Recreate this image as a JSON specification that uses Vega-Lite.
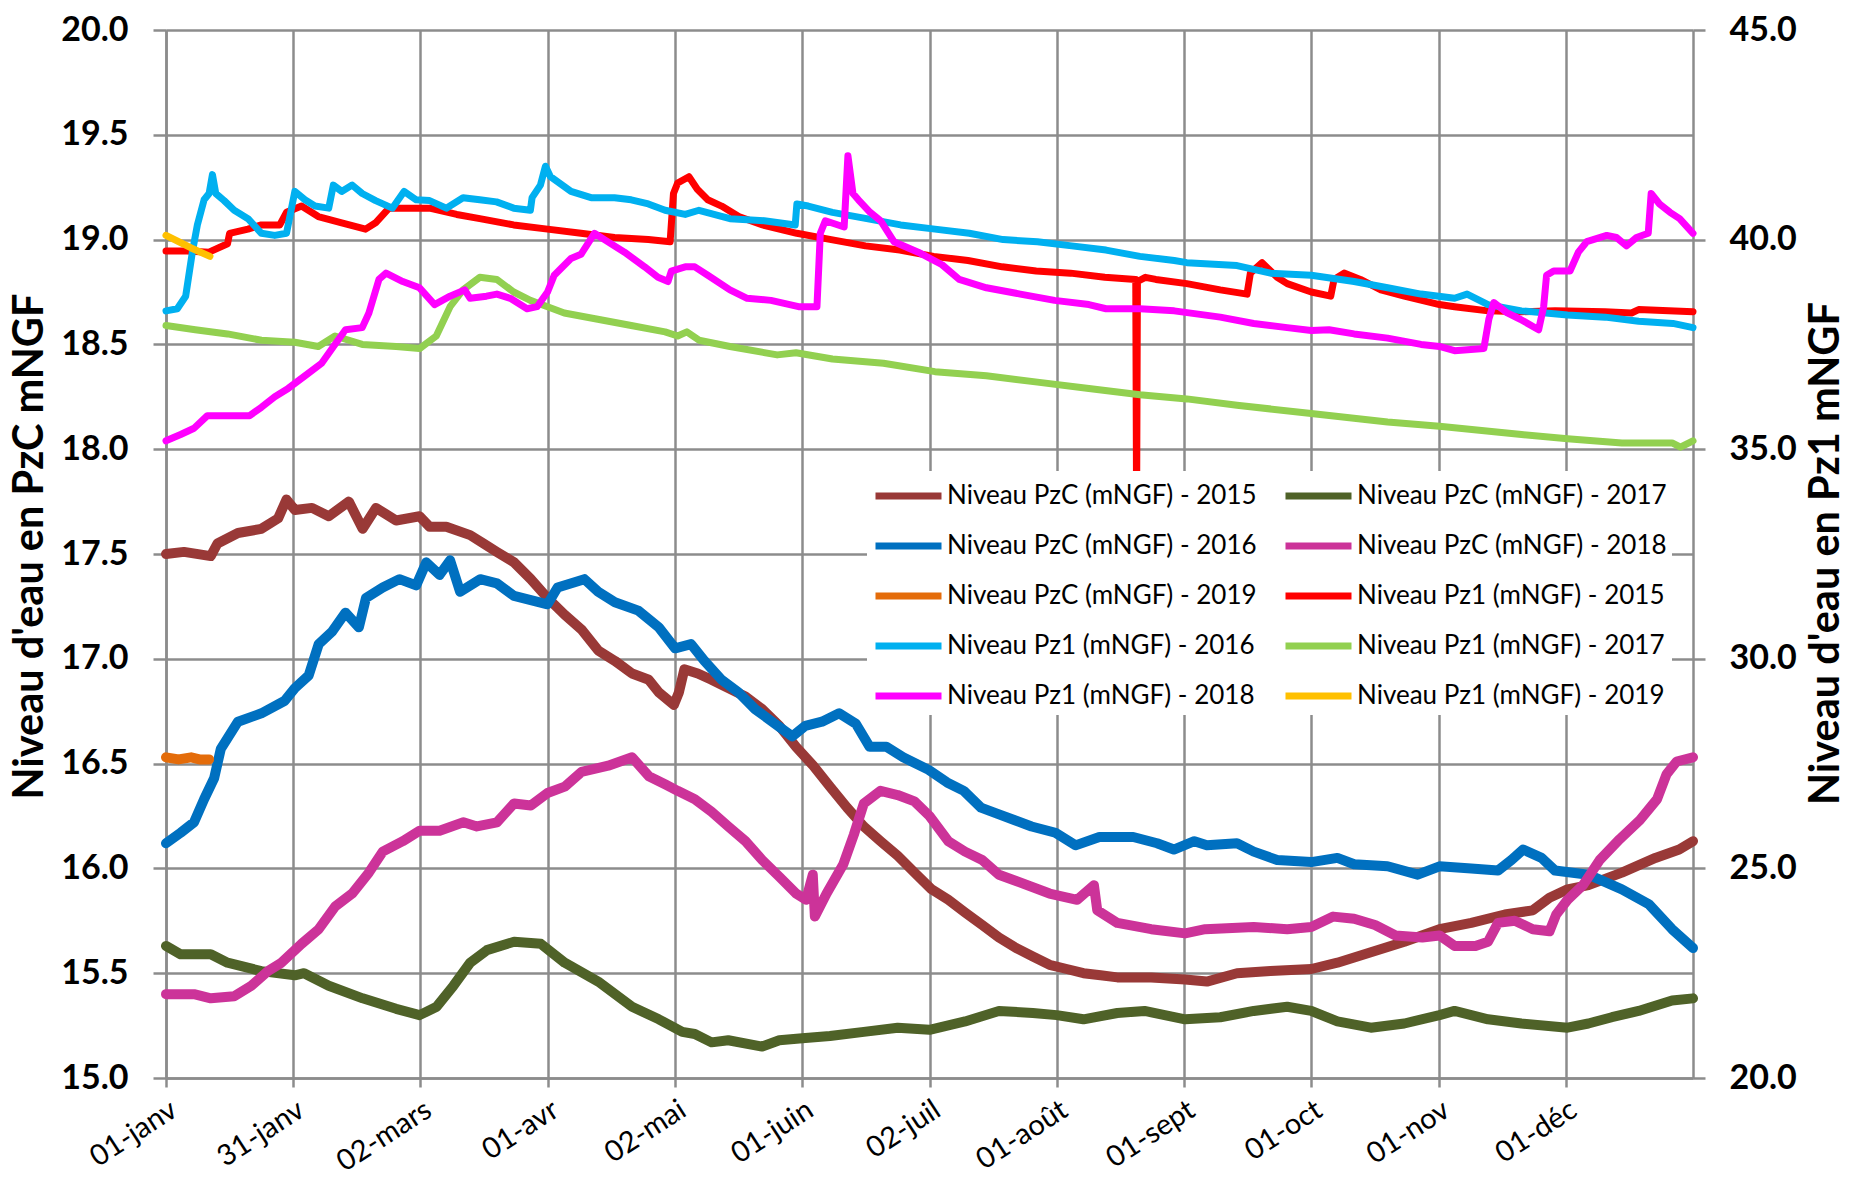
{
  "$schema": "https://vega.github.io/schema/vega-lite/v6.json",
  "width": 1527,
  "height": 1048,
  "autosize": "none",
  "padding": {"left": 166, "top": 30, "right": 157, "bottom": 101},
  "background": "white",
  "config": {"view": {"stroke": null}, "font": "Lato"},
  "datasets": {
    "pzc": [
      {"serie":"Niveau PzC (mNGF) - 2015","jour":0,"niveau":17.5},{"serie":"Niveau PzC (mNGF) - 2015","jour":4.3,"niveau":17.51},{"serie":"Niveau PzC (mNGF) - 2015","jour":10.7,"niveau":17.49},{"serie":"Niveau PzC (mNGF) - 2015","jour":12.3,"niveau":17.55},{"serie":"Niveau PzC (mNGF) - 2015","jour":17.2,"niveau":17.6},{"serie":"Niveau PzC (mNGF) - 2015","jour":22.8,"niveau":17.62},{"serie":"Niveau PzC (mNGF) - 2015","jour":26.8,"niveau":17.67},{"serie":"Niveau PzC (mNGF) - 2015","jour":28.8,"niveau":17.76},{"serie":"Niveau PzC (mNGF) - 2015","jour":30.8,"niveau":17.71},{"serie":"Niveau PzC (mNGF) - 2015","jour":34.9,"niveau":17.72},{"serie":"Niveau PzC (mNGF) - 2015","jour":38.9,"niveau":17.68},{"serie":"Niveau PzC (mNGF) - 2015","jour":43.7,"niveau":17.75},{"serie":"Niveau PzC (mNGF) - 2015","jour":47,"niveau":17.62},{"serie":"Niveau PzC (mNGF) - 2015","jour":50.2,"niveau":17.72},{"serie":"Niveau PzC (mNGF) - 2015","jour":55,"niveau":17.66},{"serie":"Niveau PzC (mNGF) - 2015","jour":60.6,"niveau":17.68},{"serie":"Niveau PzC (mNGF) - 2015","jour":63,"niveau":17.63},{"serie":"Niveau PzC (mNGF) - 2015","jour":67,"niveau":17.63},{"serie":"Niveau PzC (mNGF) - 2015","jour":72.7,"niveau":17.59},{"serie":"Niveau PzC (mNGF) - 2015","jour":75.9,"niveau":17.55},{"serie":"Niveau PzC (mNGF) - 2015","jour":79.1,"niveau":17.51},{"serie":"Niveau PzC (mNGF) - 2015","jour":83.2,"niveau":17.46},{"serie":"Niveau PzC (mNGF) - 2015","jour":87.2,"niveau":17.38},{"serie":"Niveau PzC (mNGF) - 2015","jour":91.2,"niveau":17.29},{"serie":"Niveau PzC (mNGF) - 2015","jour":95.3,"niveau":17.21},{"serie":"Niveau PzC (mNGF) - 2015","jour":99.3,"niveau":17.14},{"serie":"Niveau PzC (mNGF) - 2015","jour":103.3,"niveau":17.04},{"serie":"Niveau PzC (mNGF) - 2015","jour":107.3,"niveau":16.99},{"serie":"Niveau PzC (mNGF) - 2015","jour":111.4,"niveau":16.93},{"serie":"Niveau PzC (mNGF) - 2015","jour":115.4,"niveau":16.9},{"serie":"Niveau PzC (mNGF) - 2015","jour":117.8,"niveau":16.84},{"serie":"Niveau PzC (mNGF) - 2015","jour":121.4,"niveau":16.78},{"serie":"Niveau PzC (mNGF) - 2015","jour":122.6,"niveau":16.84},{"serie":"Niveau PzC (mNGF) - 2015","jour":123.9,"niveau":16.95},{"serie":"Niveau PzC (mNGF) - 2015","jour":127.1,"niveau":16.93},{"serie":"Niveau PzC (mNGF) - 2015","jour":130.4,"niveau":16.9},{"serie":"Niveau PzC (mNGF) - 2015","jour":134.4,"niveau":16.86},{"serie":"Niveau PzC (mNGF) - 2015","jour":138.5,"niveau":16.82},{"serie":"Niveau PzC (mNGF) - 2015","jour":142.5,"niveau":16.76},{"serie":"Niveau PzC (mNGF) - 2015","jour":146.6,"niveau":16.68},{"serie":"Niveau PzC (mNGF) - 2015","jour":150.6,"niveau":16.58},{"serie":"Niveau PzC (mNGF) - 2015","jour":154.7,"niveau":16.49},{"serie":"Niveau PzC (mNGF) - 2015","jour":158.7,"niveau":16.39},{"serie":"Niveau PzC (mNGF) - 2015","jour":162.8,"niveau":16.29},{"serie":"Niveau PzC (mNGF) - 2015","jour":166.8,"niveau":16.2},{"serie":"Niveau PzC (mNGF) - 2015","jour":170.8,"niveau":16.13},{"serie":"Niveau PzC (mNGF) - 2015","jour":174.9,"niveau":16.06},{"serie":"Niveau PzC (mNGF) - 2015","jour":178.9,"niveau":15.98},{"serie":"Niveau PzC (mNGF) - 2015","jour":183,"niveau":15.9},{"serie":"Niveau PzC (mNGF) - 2015","jour":187,"niveau":15.85},{"serie":"Niveau PzC (mNGF) - 2015","jour":191,"niveau":15.79},{"serie":"Niveau PzC (mNGF) - 2015","jour":195.1,"niveau":15.73},{"serie":"Niveau PzC (mNGF) - 2015","jour":199.1,"niveau":15.67},{"serie":"Niveau PzC (mNGF) - 2015","jour":203.2,"niveau":15.62},{"serie":"Niveau PzC (mNGF) - 2015","jour":207.2,"niveau":15.58},{"serie":"Niveau PzC (mNGF) - 2015","jour":211.2,"niveau":15.54},{"serie":"Niveau PzC (mNGF) - 2015","jour":215.3,"niveau":15.52},{"serie":"Niveau PzC (mNGF) - 2015","jour":219.3,"niveau":15.5},{"serie":"Niveau PzC (mNGF) - 2015","jour":223.4,"niveau":15.49},{"serie":"Niveau PzC (mNGF) - 2015","jour":227.4,"niveau":15.48},{"serie":"Niveau PzC (mNGF) - 2015","jour":235.5,"niveau":15.48},{"serie":"Niveau PzC (mNGF) - 2015","jour":243.6,"niveau":15.47},{"serie":"Niveau PzC (mNGF) - 2015","jour":248.8,"niveau":15.46},{"serie":"Niveau PzC (mNGF) - 2015","jour":256,"niveau":15.5},{"serie":"Niveau PzC (mNGF) - 2015","jour":264,"niveau":15.51},{"serie":"Niveau PzC (mNGF) - 2015","jour":273.75,"niveau":15.52},{"serie":"Niveau PzC (mNGF) - 2015","jour":280,"niveau":15.55},{"serie":"Niveau PzC (mNGF) - 2015","jour":288,"niveau":15.6},{"serie":"Niveau PzC (mNGF) - 2015","jour":296,"niveau":15.65},{"serie":"Niveau PzC (mNGF) - 2015","jour":304.4,"niveau":15.71},{"serie":"Niveau PzC (mNGF) - 2015","jour":312,"niveau":15.74},{"serie":"Niveau PzC (mNGF) - 2015","jour":320,"niveau":15.78},{"serie":"Niveau PzC (mNGF) - 2015","jour":326.7,"niveau":15.8},{"serie":"Niveau PzC (mNGF) - 2015","jour":330.7,"niveau":15.86},{"serie":"Niveau PzC (mNGF) - 2015","jour":335,"niveau":15.9},{"serie":"Niveau PzC (mNGF) - 2015","jour":340,"niveau":15.92},{"serie":"Niveau PzC (mNGF) - 2015","jour":348,"niveau":15.98},{"serie":"Niveau PzC (mNGF) - 2015","jour":356,"niveau":16.05},{"serie":"Niveau PzC (mNGF) - 2015","jour":361.7,"niveau":16.09},{"serie":"Niveau PzC (mNGF) - 2015","jour":365,"niveau":16.13},

      {"serie":"Niveau PzC (mNGF) - 2016","jour":0,"niveau":16.12},{"serie":"Niveau PzC (mNGF) - 2016","jour":3.5,"niveau":16.17},{"serie":"Niveau PzC (mNGF) - 2016","jour":6.7,"niveau":16.22},{"serie":"Niveau PzC (mNGF) - 2016","jour":9.1,"niveau":16.33},{"serie":"Niveau PzC (mNGF) - 2016","jour":11.5,"niveau":16.43},{"serie":"Niveau PzC (mNGF) - 2016","jour":13.1,"niveau":16.57},{"serie":"Niveau PzC (mNGF) - 2016","jour":17.2,"niveau":16.7},{"serie":"Niveau PzC (mNGF) - 2016","jour":22.8,"niveau":16.74},{"serie":"Niveau PzC (mNGF) - 2016","jour":28.4,"niveau":16.8},{"serie":"Niveau PzC (mNGF) - 2016","jour":30.8,"niveau":16.86},{"serie":"Niveau PzC (mNGF) - 2016","jour":34.1,"niveau":16.92},{"serie":"Niveau PzC (mNGF) - 2016","jour":36.5,"niveau":17.07},{"serie":"Niveau PzC (mNGF) - 2016","jour":39.7,"niveau":17.13},{"serie":"Niveau PzC (mNGF) - 2016","jour":42.9,"niveau":17.22},{"serie":"Niveau PzC (mNGF) - 2016","jour":46.1,"niveau":17.15},{"serie":"Niveau PzC (mNGF) - 2016","jour":47.8,"niveau":17.29},{"serie":"Niveau PzC (mNGF) - 2016","jour":51.8,"niveau":17.34},{"serie":"Niveau PzC (mNGF) - 2016","jour":55.8,"niveau":17.38},{"serie":"Niveau PzC (mNGF) - 2016","jour":59.8,"niveau":17.35},{"serie":"Niveau PzC (mNGF) - 2016","jour":62.2,"niveau":17.46},{"serie":"Niveau PzC (mNGF) - 2016","jour":65.4,"niveau":17.4},{"serie":"Niveau PzC (mNGF) - 2016","jour":67.9,"niveau":17.47},{"serie":"Niveau PzC (mNGF) - 2016","jour":70.3,"niveau":17.32},{"serie":"Niveau PzC (mNGF) - 2016","jour":75.1,"niveau":17.38},{"serie":"Niveau PzC (mNGF) - 2016","jour":79.1,"niveau":17.36},{"serie":"Niveau PzC (mNGF) - 2016","jour":83.2,"niveau":17.3},{"serie":"Niveau PzC (mNGF) - 2016","jour":87.2,"niveau":17.28},{"serie":"Niveau PzC (mNGF) - 2016","jour":91.2,"niveau":17.26},{"serie":"Niveau PzC (mNGF) - 2016","jour":93.6,"niveau":17.34},{"serie":"Niveau PzC (mNGF) - 2016","jour":100,"niveau":17.38},{"serie":"Niveau PzC (mNGF) - 2016","jour":103.3,"niveau":17.32},{"serie":"Niveau PzC (mNGF) - 2016","jour":107.3,"niveau":17.27},{"serie":"Niveau PzC (mNGF) - 2016","jour":112.9,"niveau":17.23},{"serie":"Niveau PzC (mNGF) - 2016","jour":117.8,"niveau":17.15},{"serie":"Niveau PzC (mNGF) - 2016","jour":121.7,"niveau":17.05},{"serie":"Niveau PzC (mNGF) - 2016","jour":125.5,"niveau":17.07},{"serie":"Niveau PzC (mNGF) - 2016","jour":128.7,"niveau":16.99},{"serie":"Niveau PzC (mNGF) - 2016","jour":132.8,"niveau":16.9},{"serie":"Niveau PzC (mNGF) - 2016","jour":136.8,"niveau":16.84},{"serie":"Niveau PzC (mNGF) - 2016","jour":140.8,"niveau":16.76},{"serie":"Niveau PzC (mNGF) - 2016","jour":144.9,"niveau":16.7},{"serie":"Niveau PzC (mNGF) - 2016","jour":149.7,"niveau":16.63},{"serie":"Niveau PzC (mNGF) - 2016","jour":152.8,"niveau":16.68},{"serie":"Niveau PzC (mNGF) - 2016","jour":156.8,"niveau":16.7},{"serie":"Niveau PzC (mNGF) - 2016","jour":160.9,"niveau":16.74},{"serie":"Niveau PzC (mNGF) - 2016","jour":164.9,"niveau":16.69},{"serie":"Niveau PzC (mNGF) - 2016","jour":168.2,"niveau":16.58},{"serie":"Niveau PzC (mNGF) - 2016","jour":172.2,"niveau":16.58},{"serie":"Niveau PzC (mNGF) - 2016","jour":176.2,"niveau":16.53},{"serie":"Niveau PzC (mNGF) - 2016","jour":182.3,"niveau":16.47},{"serie":"Niveau PzC (mNGF) - 2016","jour":186.7,"niveau":16.41},{"serie":"Niveau PzC (mNGF) - 2016","jour":190.7,"niveau":16.37},{"serie":"Niveau PzC (mNGF) - 2016","jour":194.8,"niveau":16.29},{"serie":"Niveau PzC (mNGF) - 2016","jour":198.8,"niveau":16.26},{"serie":"Niveau PzC (mNGF) - 2016","jour":202.9,"niveau":16.23},{"serie":"Niveau PzC (mNGF) - 2016","jour":206.9,"niveau":16.2},{"serie":"Niveau PzC (mNGF) - 2016","jour":212.6,"niveau":16.17},{"serie":"Niveau PzC (mNGF) - 2016","jour":217.4,"niveau":16.11},{"serie":"Niveau PzC (mNGF) - 2016","jour":223.1,"niveau":16.15},{"serie":"Niveau PzC (mNGF) - 2016","jour":231.2,"niveau":16.15},{"serie":"Niveau PzC (mNGF) - 2016","jour":236.9,"niveau":16.12},{"serie":"Niveau PzC (mNGF) - 2016","jour":240.9,"niveau":16.09},{"serie":"Niveau PzC (mNGF) - 2016","jour":245.8,"niveau":16.13},{"serie":"Niveau PzC (mNGF) - 2016","jour":248.8,"niveau":16.11},{"serie":"Niveau PzC (mNGF) - 2016","jour":256,"niveau":16.12},{"serie":"Niveau PzC (mNGF) - 2016","jour":260,"niveau":16.08},{"serie":"Niveau PzC (mNGF) - 2016","jour":265.6,"niveau":16.04},{"serie":"Niveau PzC (mNGF) - 2016","jour":273.75,"niveau":16.03},{"serie":"Niveau PzC (mNGF) - 2016","jour":280,"niveau":16.05},{"serie":"Niveau PzC (mNGF) - 2016","jour":284,"niveau":16.02},{"serie":"Niveau PzC (mNGF) - 2016","jour":292,"niveau":16.01},{"serie":"Niveau PzC (mNGF) - 2016","jour":299.2,"niveau":15.97},{"serie":"Niveau PzC (mNGF) - 2016","jour":304.4,"niveau":16.01},{"serie":"Niveau PzC (mNGF) - 2016","jour":312,"niveau":16.0},{"serie":"Niveau PzC (mNGF) - 2016","jour":318.4,"niveau":15.99},{"serie":"Niveau PzC (mNGF) - 2016","jour":321.6,"niveau":16.04},{"serie":"Niveau PzC (mNGF) - 2016","jour":324.4,"niveau":16.09},{"serie":"Niveau PzC (mNGF) - 2016","jour":328.8,"niveau":16.05},{"serie":"Niveau PzC (mNGF) - 2016","jour":332,"niveau":15.99},{"serie":"Niveau PzC (mNGF) - 2016","jour":340,"niveau":15.97},{"serie":"Niveau PzC (mNGF) - 2016","jour":348,"niveau":15.9},{"serie":"Niveau PzC (mNGF) - 2016","jour":354.4,"niveau":15.83},{"serie":"Niveau PzC (mNGF) - 2016","jour":360,"niveau":15.71},{"serie":"Niveau PzC (mNGF) - 2016","jour":365,"niveau":15.62},

      {"serie":"Niveau PzC (mNGF) - 2017","jour":0,"niveau":15.63},{"serie":"Niveau PzC (mNGF) - 2017","jour":3.5,"niveau":15.59},{"serie":"Niveau PzC (mNGF) - 2017","jour":10.7,"niveau":15.59},{"serie":"Niveau PzC (mNGF) - 2017","jour":14.7,"niveau":15.55},{"serie":"Niveau PzC (mNGF) - 2017","jour":22.8,"niveau":15.51},{"serie":"Niveau PzC (mNGF) - 2017","jour":30.8,"niveau":15.49},{"serie":"Niveau PzC (mNGF) - 2017","jour":33,"niveau":15.5},{"serie":"Niveau PzC (mNGF) - 2017","jour":38.9,"niveau":15.44},{"serie":"Niveau PzC (mNGF) - 2017","jour":47,"niveau":15.38},{"serie":"Niveau PzC (mNGF) - 2017","jour":55,"niveau":15.33},{"serie":"Niveau PzC (mNGF) - 2017","jour":60.6,"niveau":15.3},{"serie":"Niveau PzC (mNGF) - 2017","jour":64.7,"niveau":15.34},{"serie":"Niveau PzC (mNGF) - 2017","jour":68.7,"niveau":15.44},{"serie":"Niveau PzC (mNGF) - 2017","jour":72.7,"niveau":15.55},{"serie":"Niveau PzC (mNGF) - 2017","jour":76.7,"niveau":15.61},{"serie":"Niveau PzC (mNGF) - 2017","jour":83.2,"niveau":15.65},{"serie":"Niveau PzC (mNGF) - 2017","jour":89.6,"niveau":15.64},{"serie":"Niveau PzC (mNGF) - 2017","jour":95.3,"niveau":15.55},{"serie":"Niveau PzC (mNGF) - 2017","jour":103.3,"niveau":15.46},{"serie":"Niveau PzC (mNGF) - 2017","jour":111.4,"niveau":15.34},{"serie":"Niveau PzC (mNGF) - 2017","jour":117.8,"niveau":15.28},{"serie":"Niveau PzC (mNGF) - 2017","jour":123.4,"niveau":15.22},{"serie":"Niveau PzC (mNGF) - 2017","jour":126.4,"niveau":15.21},{"serie":"Niveau PzC (mNGF) - 2017","jour":130.4,"niveau":15.17},{"serie":"Niveau PzC (mNGF) - 2017","jour":134.4,"niveau":15.18},{"serie":"Niveau PzC (mNGF) - 2017","jour":142.5,"niveau":15.15},{"serie":"Niveau PzC (mNGF) - 2017","jour":146.6,"niveau":15.18},{"serie":"Niveau PzC (mNGF) - 2017","jour":152.1,"niveau":15.19},{"serie":"Niveau PzC (mNGF) - 2017","jour":158.7,"niveau":15.2},{"serie":"Niveau PzC (mNGF) - 2017","jour":166.8,"niveau":15.22},{"serie":"Niveau PzC (mNGF) - 2017","jour":174.9,"niveau":15.24},{"serie":"Niveau PzC (mNGF) - 2017","jour":182.5,"niveau":15.23},{"serie":"Niveau PzC (mNGF) - 2017","jour":191,"niveau":15.27},{"serie":"Niveau PzC (mNGF) - 2017","jour":199.1,"niveau":15.32},{"serie":"Niveau PzC (mNGF) - 2017","jour":207.2,"niveau":15.31},{"serie":"Niveau PzC (mNGF) - 2017","jour":212.9,"niveau":15.3},{"serie":"Niveau PzC (mNGF) - 2017","jour":219.3,"niveau":15.28},{"serie":"Niveau PzC (mNGF) - 2017","jour":227.4,"niveau":15.31},{"serie":"Niveau PzC (mNGF) - 2017","jour":233.9,"niveau":15.32},{"serie":"Niveau PzC (mNGF) - 2017","jour":243.6,"niveau":15.28},{"serie":"Niveau PzC (mNGF) - 2017","jour":252,"niveau":15.29},{"serie":"Niveau PzC (mNGF) - 2017","jour":260,"niveau":15.32},{"serie":"Niveau PzC (mNGF) - 2017","jour":268,"niveau":15.34},{"serie":"Niveau PzC (mNGF) - 2017","jour":273.75,"niveau":15.32},{"serie":"Niveau PzC (mNGF) - 2017","jour":280,"niveau":15.27},{"serie":"Niveau PzC (mNGF) - 2017","jour":288,"niveau":15.24},{"serie":"Niveau PzC (mNGF) - 2017","jour":296,"niveau":15.26},{"serie":"Niveau PzC (mNGF) - 2017","jour":304.4,"niveau":15.3},{"serie":"Niveau PzC (mNGF) - 2017","jour":308,"niveau":15.32},{"serie":"Niveau PzC (mNGF) - 2017","jour":316,"niveau":15.28},{"serie":"Niveau PzC (mNGF) - 2017","jour":324,"niveau":15.26},{"serie":"Niveau PzC (mNGF) - 2017","jour":335,"niveau":15.24},{"serie":"Niveau PzC (mNGF) - 2017","jour":340,"niveau":15.26},{"serie":"Niveau PzC (mNGF) - 2017","jour":345.6,"niveau":15.29},{"serie":"Niveau PzC (mNGF) - 2017","jour":352,"niveau":15.32},{"serie":"Niveau PzC (mNGF) - 2017","jour":360,"niveau":15.37},{"serie":"Niveau PzC (mNGF) - 2017","jour":365,"niveau":15.38},

      {"serie":"Niveau PzC (mNGF) - 2018","jour":0,"niveau":15.4},{"serie":"Niveau PzC (mNGF) - 2018","jour":6.7,"niveau":15.4},{"serie":"Niveau PzC (mNGF) - 2018","jour":10.7,"niveau":15.38},{"serie":"Niveau PzC (mNGF) - 2018","jour":16.3,"niveau":15.39},{"serie":"Niveau PzC (mNGF) - 2018","jour":20.4,"niveau":15.44},{"serie":"Niveau PzC (mNGF) - 2018","jour":24.4,"niveau":15.51},{"serie":"Niveau PzC (mNGF) - 2018","jour":27.6,"niveau":15.55},{"serie":"Niveau PzC (mNGF) - 2018","jour":32.4,"niveau":15.64},{"serie":"Niveau PzC (mNGF) - 2018","jour":36.5,"niveau":15.71},{"serie":"Niveau PzC (mNGF) - 2018","jour":40.5,"niveau":15.82},{"serie":"Niveau PzC (mNGF) - 2018","jour":44.5,"niveau":15.88},{"serie":"Niveau PzC (mNGF) - 2018","jour":48.5,"niveau":15.98},{"serie":"Niveau PzC (mNGF) - 2018","jour":51.8,"niveau":16.08},{"serie":"Niveau PzC (mNGF) - 2018","jour":56.6,"niveau":16.13},{"serie":"Niveau PzC (mNGF) - 2018","jour":60.6,"niveau":16.18},{"serie":"Niveau PzC (mNGF) - 2018","jour":65.4,"niveau":16.18},{"serie":"Niveau PzC (mNGF) - 2018","jour":71.1,"niveau":16.22},{"serie":"Niveau PzC (mNGF) - 2018","jour":74.3,"niveau":16.2},{"serie":"Niveau PzC (mNGF) - 2018","jour":79.1,"niveau":16.22},{"serie":"Niveau PzC (mNGF) - 2018","jour":83.2,"niveau":16.31},{"serie":"Niveau PzC (mNGF) - 2018","jour":87.2,"niveau":16.3},{"serie":"Niveau PzC (mNGF) - 2018","jour":91.2,"niveau":16.36},{"serie":"Niveau PzC (mNGF) - 2018","jour":95.3,"niveau":16.39},{"serie":"Niveau PzC (mNGF) - 2018","jour":99.3,"niveau":16.46},{"serie":"Niveau PzC (mNGF) - 2018","jour":105.7,"niveau":16.49},{"serie":"Niveau PzC (mNGF) - 2018","jour":111.4,"niveau":16.53},{"serie":"Niveau PzC (mNGF) - 2018","jour":115.4,"niveau":16.44},{"serie":"Niveau PzC (mNGF) - 2018","jour":119.4,"niveau":16.4},{"serie":"Niveau PzC (mNGF) - 2018","jour":122.3,"niveau":16.37},{"serie":"Niveau PzC (mNGF) - 2018","jour":126.4,"niveau":16.33},{"serie":"Niveau PzC (mNGF) - 2018","jour":130.4,"niveau":16.27},{"serie":"Niveau PzC (mNGF) - 2018","jour":134.4,"niveau":16.2},{"serie":"Niveau PzC (mNGF) - 2018","jour":138.5,"niveau":16.13},{"serie":"Niveau PzC (mNGF) - 2018","jour":142.5,"niveau":16.04},{"serie":"Niveau PzC (mNGF) - 2018","jour":146.6,"niveau":15.96},{"serie":"Niveau PzC (mNGF) - 2018","jour":150.6,"niveau":15.88},{"serie":"Niveau PzC (mNGF) - 2018","jour":153,"niveau":15.85},{"serie":"Niveau PzC (mNGF) - 2018","jour":154.6,"niveau":15.97},{"serie":"Niveau PzC (mNGF) - 2018","jour":155.1,"niveau":15.77},{"serie":"Niveau PzC (mNGF) - 2018","jour":157.9,"niveau":15.88},{"serie":"Niveau PzC (mNGF) - 2018","jour":161.9,"niveau":16.02},{"serie":"Niveau PzC (mNGF) - 2018","jour":164.4,"niveau":16.16},{"serie":"Niveau PzC (mNGF) - 2018","jour":166.8,"niveau":16.31},{"serie":"Niveau PzC (mNGF) - 2018","jour":170.8,"niveau":16.37},{"serie":"Niveau PzC (mNGF) - 2018","jour":174.9,"niveau":16.35},{"serie":"Niveau PzC (mNGF) - 2018","jour":178.9,"niveau":16.32},{"serie":"Niveau PzC (mNGF) - 2018","jour":182.5,"niveau":16.25},{"serie":"Niveau PzC (mNGF) - 2018","jour":187,"niveau":16.13},{"serie":"Niveau PzC (mNGF) - 2018","jour":191,"niveau":16.08},{"serie":"Niveau PzC (mNGF) - 2018","jour":195.1,"niveau":16.04},{"serie":"Niveau PzC (mNGF) - 2018","jour":199.1,"niveau":15.97},{"serie":"Niveau PzC (mNGF) - 2018","jour":203.2,"niveau":15.94},{"serie":"Niveau PzC (mNGF) - 2018","jour":211.2,"niveau":15.88},{"serie":"Niveau PzC (mNGF) - 2018","jour":217.8,"niveau":15.85},{"serie":"Niveau PzC (mNGF) - 2018","jour":221.8,"niveau":15.92},{"serie":"Niveau PzC (mNGF) - 2018","jour":222.6,"niveau":15.8},{"serie":"Niveau PzC (mNGF) - 2018","jour":227.4,"niveau":15.74},{"serie":"Niveau PzC (mNGF) - 2018","jour":235.5,"niveau":15.71},{"serie":"Niveau PzC (mNGF) - 2018","jour":243.6,"niveau":15.69},{"serie":"Niveau PzC (mNGF) - 2018","jour":248.4,"niveau":15.71},{"serie":"Niveau PzC (mNGF) - 2018","jour":260,"niveau":15.72},{"serie":"Niveau PzC (mNGF) - 2018","jour":268,"niveau":15.71},{"serie":"Niveau PzC (mNGF) - 2018","jour":273.75,"niveau":15.72},{"serie":"Niveau PzC (mNGF) - 2018","jour":279,"niveau":15.77},{"serie":"Niveau PzC (mNGF) - 2018","jour":284,"niveau":15.76},{"serie":"Niveau PzC (mNGF) - 2018","jour":289,"niveau":15.73},{"serie":"Niveau PzC (mNGF) - 2018","jour":293.9,"niveau":15.68},{"serie":"Niveau PzC (mNGF) - 2018","jour":300.3,"niveau":15.67},{"serie":"Niveau PzC (mNGF) - 2018","jour":304.4,"niveau":15.68},{"serie":"Niveau PzC (mNGF) - 2018","jour":308,"niveau":15.63},{"serie":"Niveau PzC (mNGF) - 2018","jour":313,"niveau":15.63},{"serie":"Niveau PzC (mNGF) - 2018","jour":316,"niveau":15.65},{"serie":"Niveau PzC (mNGF) - 2018","jour":318.4,"niveau":15.74},{"serie":"Niveau PzC (mNGF) - 2018","jour":322.4,"niveau":15.75},{"serie":"Niveau PzC (mNGF) - 2018","jour":326.7,"niveau":15.71},{"serie":"Niveau PzC (mNGF) - 2018","jour":330.7,"niveau":15.7},{"serie":"Niveau PzC (mNGF) - 2018","jour":332.3,"niveau":15.78},{"serie":"Niveau PzC (mNGF) - 2018","jour":335,"niveau":15.85},{"serie":"Niveau PzC (mNGF) - 2018","jour":338.7,"niveau":15.92},{"serie":"Niveau PzC (mNGF) - 2018","jour":342.7,"niveau":16.04},{"serie":"Niveau PzC (mNGF) - 2018","jour":347.5,"niveau":16.14},{"serie":"Niveau PzC (mNGF) - 2018","jour":352.3,"niveau":16.23},{"serie":"Niveau PzC (mNGF) - 2018","jour":356.4,"niveau":16.33},{"serie":"Niveau PzC (mNGF) - 2018","jour":358.7,"niveau":16.45},{"serie":"Niveau PzC (mNGF) - 2018","jour":361.1,"niveau":16.51},{"serie":"Niveau PzC (mNGF) - 2018","jour":365,"niveau":16.53},

      {"serie":"Niveau PzC (mNGF) - 2019","jour":0,"niveau":16.53},{"serie":"Niveau PzC (mNGF) - 2019","jour":3,"niveau":16.52},{"serie":"Niveau PzC (mNGF) - 2019","jour":6,"niveau":16.53},{"serie":"Niveau PzC (mNGF) - 2019","jour":8,"niveau":16.52},{"serie":"Niveau PzC (mNGF) - 2019","jour":10.3,"niveau":16.52}
    ],
    "pz1": [
      {"serie":"Niveau Pz1 (mNGF) - 2015","jour":0,"niveau":39.73},{"serie":"Niveau Pz1 (mNGF) - 2015","jour":5,"niveau":39.73},{"serie":"Niveau Pz1 (mNGF) - 2015","jour":10.3,"niveau":39.7},{"serie":"Niveau Pz1 (mNGF) - 2015","jour":14.7,"niveau":39.9},{"serie":"Niveau Pz1 (mNGF) - 2015","jour":15.2,"niveau":40.15},{"serie":"Niveau Pz1 (mNGF) - 2015","jour":19.6,"niveau":40.25},{"serie":"Niveau Pz1 (mNGF) - 2015","jour":22.8,"niveau":40.35},{"serie":"Niveau Pz1 (mNGF) - 2015","jour":27.2,"niveau":40.35},{"serie":"Niveau Pz1 (mNGF) - 2015","jour":28.8,"niveau":40.65},{"serie":"Niveau Pz1 (mNGF) - 2015","jour":32.4,"niveau":40.8},{"serie":"Niveau Pz1 (mNGF) - 2015","jour":36.4,"niveau":40.55},{"serie":"Niveau Pz1 (mNGF) - 2015","jour":42,"niveau":40.4},{"serie":"Niveau Pz1 (mNGF) - 2015","jour":47.7,"niveau":40.25},{"serie":"Niveau Pz1 (mNGF) - 2015","jour":50.1,"niveau":40.4},{"serie":"Niveau Pz1 (mNGF) - 2015","jour":53.3,"niveau":40.75},{"serie":"Niveau Pz1 (mNGF) - 2015","jour":56.5,"niveau":40.75},{"serie":"Niveau Pz1 (mNGF) - 2015","jour":63,"niveau":40.75},{"serie":"Niveau Pz1 (mNGF) - 2015","jour":69.5,"niveau":40.6},{"serie":"Niveau Pz1 (mNGF) - 2015","jour":75,"niveau":40.5},{"serie":"Niveau Pz1 (mNGF) - 2015","jour":83.1,"niveau":40.35},{"serie":"Niveau Pz1 (mNGF) - 2015","jour":91.2,"niveau":40.25},{"serie":"Niveau Pz1 (mNGF) - 2015","jour":99.2,"niveau":40.15},{"serie":"Niveau Pz1 (mNGF) - 2015","jour":107.2,"niveau":40.05},{"serie":"Niveau Pz1 (mNGF) - 2015","jour":115.3,"niveau":40.0},{"serie":"Niveau Pz1 (mNGF) - 2015","jour":120.5,"niveau":39.95},{"serie":"Niveau Pz1 (mNGF) - 2015","jour":121.3,"niveau":41.1},{"serie":"Niveau Pz1 (mNGF) - 2015","jour":122.3,"niveau":41.35},{"serie":"Niveau Pz1 (mNGF) - 2015","jour":125,"niveau":41.5},{"serie":"Niveau Pz1 (mNGF) - 2015","jour":127,"niveau":41.2},{"serie":"Niveau Pz1 (mNGF) - 2015","jour":129.5,"niveau":40.95},{"serie":"Niveau Pz1 (mNGF) - 2015","jour":132.8,"niveau":40.8},{"serie":"Niveau Pz1 (mNGF) - 2015","jour":136.9,"niveau":40.55},{"serie":"Niveau Pz1 (mNGF) - 2015","jour":142.6,"niveau":40.35},{"serie":"Niveau Pz1 (mNGF) - 2015","jour":150.8,"niveau":40.15},{"serie":"Niveau Pz1 (mNGF) - 2015","jour":159,"niveau":40.0},{"serie":"Niveau Pz1 (mNGF) - 2015","jour":167.2,"niveau":39.85},{"serie":"Niveau Pz1 (mNGF) - 2015","jour":175.4,"niveau":39.75},{"serie":"Niveau Pz1 (mNGF) - 2015","jour":183.5,"niveau":39.6},{"serie":"Niveau Pz1 (mNGF) - 2015","jour":191.7,"niveau":39.5},{"serie":"Niveau Pz1 (mNGF) - 2015","jour":199.9,"niveau":39.35},{"serie":"Niveau Pz1 (mNGF) - 2015","jour":208,"niveau":39.25},{"serie":"Niveau Pz1 (mNGF) - 2015","jour":216.2,"niveau":39.2},{"serie":"Niveau Pz1 (mNGF) - 2015","jour":224.4,"niveau":39.1},{"serie":"Niveau Pz1 (mNGF) - 2015","jour":231.8,"niveau":39.05},{"serie":"Niveau Pz1 (mNGF) - 2015","jour":232,"niveau":33.5},{"serie":"Niveau Pz1 (mNGF) - 2015","jour":232.2,"niveau":39.0},{"serie":"Niveau Pz1 (mNGF) - 2015","jour":234.1,"niveau":39.1},{"serie":"Niveau Pz1 (mNGF) - 2015","jour":236.6,"niveau":39.05},{"serie":"Niveau Pz1 (mNGF) - 2015","jour":244,"niveau":38.95},{"serie":"Niveau Pz1 (mNGF) - 2015","jour":252,"niveau":38.8},{"serie":"Niveau Pz1 (mNGF) - 2015","jour":258.4,"niveau":38.7},{"serie":"Niveau Pz1 (mNGF) - 2015","jour":259.2,"niveau":39.2},{"serie":"Niveau Pz1 (mNGF) - 2015","jour":262,"niveau":39.45},{"serie":"Niveau Pz1 (mNGF) - 2015","jour":265.6,"niveau":39.1},{"serie":"Niveau Pz1 (mNGF) - 2015","jour":268,"niveau":38.95},{"serie":"Niveau Pz1 (mNGF) - 2015","jour":273.75,"niveau":38.75},{"serie":"Niveau Pz1 (mNGF) - 2015","jour":278.4,"niveau":38.65},{"serie":"Niveau Pz1 (mNGF) - 2015","jour":279.2,"niveau":39.05},{"serie":"Niveau Pz1 (mNGF) - 2015","jour":281.6,"niveau":39.2},{"serie":"Niveau Pz1 (mNGF) - 2015","jour":285.5,"niveau":39.05},{"serie":"Niveau Pz1 (mNGF) - 2015","jour":290.4,"niveau":38.8},{"serie":"Niveau Pz1 (mNGF) - 2015","jour":296,"niveau":38.65},{"serie":"Niveau Pz1 (mNGF) - 2015","jour":304.4,"niveau":38.45},{"serie":"Niveau Pz1 (mNGF) - 2015","jour":308,"niveau":38.4},{"serie":"Niveau Pz1 (mNGF) - 2015","jour":316,"niveau":38.3},{"serie":"Niveau Pz1 (mNGF) - 2015","jour":324,"niveau":38.28},{"serie":"Niveau Pz1 (mNGF) - 2015","jour":332,"niveau":38.3},{"serie":"Niveau Pz1 (mNGF) - 2015","jour":344,"niveau":38.28},{"serie":"Niveau Pz1 (mNGF) - 2015","jour":350.3,"niveau":38.25},{"serie":"Niveau Pz1 (mNGF) - 2015","jour":352,"niveau":38.33},{"serie":"Niveau Pz1 (mNGF) - 2015","jour":365,"niveau":38.28},

      {"serie":"Niveau Pz1 (mNGF) - 2016","jour":0,"niveau":38.3},{"serie":"Niveau Pz1 (mNGF) - 2016","jour":2.7,"niveau":38.35},{"serie":"Niveau Pz1 (mNGF) - 2016","jour":4.7,"niveau":38.65},{"serie":"Niveau Pz1 (mNGF) - 2016","jour":6.3,"niveau":39.7},{"serie":"Niveau Pz1 (mNGF) - 2016","jour":7.5,"niveau":40.35},{"serie":"Niveau Pz1 (mNGF) - 2016","jour":9.1,"niveau":40.95},{"serie":"Niveau Pz1 (mNGF) - 2016","jour":10.3,"niveau":41.1},{"serie":"Niveau Pz1 (mNGF) - 2016","jour":11.1,"niveau":41.55},{"serie":"Niveau Pz1 (mNGF) - 2016","jour":11.9,"niveau":41.1},{"serie":"Niveau Pz1 (mNGF) - 2016","jour":13.9,"niveau":40.93},{"serie":"Niveau Pz1 (mNGF) - 2016","jour":16.3,"niveau":40.7},{"serie":"Niveau Pz1 (mNGF) - 2016","jour":19.6,"niveau":40.5},{"serie":"Niveau Pz1 (mNGF) - 2016","jour":22.8,"niveau":40.15},{"serie":"Niveau Pz1 (mNGF) - 2016","jour":26,"niveau":40.1},{"serie":"Niveau Pz1 (mNGF) - 2016","jour":28.8,"niveau":40.15},{"serie":"Niveau Pz1 (mNGF) - 2016","jour":30.8,"niveau":41.15},{"serie":"Niveau Pz1 (mNGF) - 2016","jour":33.2,"niveau":40.95},{"serie":"Niveau Pz1 (mNGF) - 2016","jour":35.6,"niveau":40.8},{"serie":"Niveau Pz1 (mNGF) - 2016","jour":38.9,"niveau":40.75},{"serie":"Niveau Pz1 (mNGF) - 2016","jour":40,"niveau":41.3},{"serie":"Niveau Pz1 (mNGF) - 2016","jour":42,"niveau":41.15},{"serie":"Niveau Pz1 (mNGF) - 2016","jour":44.5,"niveau":41.3},{"serie":"Niveau Pz1 (mNGF) - 2016","jour":46.9,"niveau":41.1},{"serie":"Niveau Pz1 (mNGF) - 2016","jour":50.1,"niveau":40.93},{"serie":"Niveau Pz1 (mNGF) - 2016","jour":54.1,"niveau":40.75},{"serie":"Niveau Pz1 (mNGF) - 2016","jour":56.9,"niveau":41.15},{"serie":"Niveau Pz1 (mNGF) - 2016","jour":59.8,"niveau":40.95},{"serie":"Niveau Pz1 (mNGF) - 2016","jour":63,"niveau":40.93},{"serie":"Niveau Pz1 (mNGF) - 2016","jour":67,"niveau":40.75},{"serie":"Niveau Pz1 (mNGF) - 2016","jour":71,"niveau":41.0},{"serie":"Niveau Pz1 (mNGF) - 2016","jour":75,"niveau":40.95},{"serie":"Niveau Pz1 (mNGF) - 2016","jour":79,"niveau":40.9},{"serie":"Niveau Pz1 (mNGF) - 2016","jour":83.1,"niveau":40.75},{"serie":"Niveau Pz1 (mNGF) - 2016","jour":87.1,"niveau":40.7},{"serie":"Niveau Pz1 (mNGF) - 2016","jour":87.5,"niveau":41.0},{"serie":"Niveau Pz1 (mNGF) - 2016","jour":89.5,"niveau":41.3},{"serie":"Niveau Pz1 (mNGF) - 2016","jour":90.7,"niveau":41.75},{"serie":"Niveau Pz1 (mNGF) - 2016","jour":91.9,"niveau":41.5},{"serie":"Niveau Pz1 (mNGF) - 2016","jour":96.8,"niveau":41.15},{"serie":"Niveau Pz1 (mNGF) - 2016","jour":101.6,"niveau":41.0},{"serie":"Niveau Pz1 (mNGF) - 2016","jour":107.2,"niveau":41.0},{"serie":"Niveau Pz1 (mNGF) - 2016","jour":111.2,"niveau":40.95},{"serie":"Niveau Pz1 (mNGF) - 2016","jour":115.3,"niveau":40.85},{"serie":"Niveau Pz1 (mNGF) - 2016","jour":119.3,"niveau":40.7},{"serie":"Niveau Pz1 (mNGF) - 2016","jour":124.1,"niveau":40.6},{"serie":"Niveau Pz1 (mNGF) - 2016","jour":127.4,"niveau":40.7},{"serie":"Niveau Pz1 (mNGF) - 2016","jour":134.8,"niveau":40.5},{"serie":"Niveau Pz1 (mNGF) - 2016","jour":143,"niveau":40.45},{"serie":"Niveau Pz1 (mNGF) - 2016","jour":150.4,"niveau":40.35},{"serie":"Niveau Pz1 (mNGF) - 2016","jour":150.8,"niveau":40.85},{"serie":"Niveau Pz1 (mNGF) - 2016","jour":153.5,"niveau":40.8},{"serie":"Niveau Pz1 (mNGF) - 2016","jour":159.3,"niveau":40.65},{"serie":"Niveau Pz1 (mNGF) - 2016","jour":167.5,"niveau":40.5},{"serie":"Niveau Pz1 (mNGF) - 2016","jour":175.6,"niveau":40.35},{"serie":"Niveau Pz1 (mNGF) - 2016","jour":183.8,"niveau":40.25},{"serie":"Niveau Pz1 (mNGF) - 2016","jour":192,"niveau":40.15},{"serie":"Niveau Pz1 (mNGF) - 2016","jour":200.1,"niveau":40.0},{"serie":"Niveau Pz1 (mNGF) - 2016","jour":208.3,"niveau":39.95},{"serie":"Niveau Pz1 (mNGF) - 2016","jour":216.5,"niveau":39.85},{"serie":"Niveau Pz1 (mNGF) - 2016","jour":224.7,"niveau":39.75},{"serie":"Niveau Pz1 (mNGF) - 2016","jour":232.8,"niveau":39.6},{"serie":"Niveau Pz1 (mNGF) - 2016","jour":241,"niveau":39.5},{"serie":"Niveau Pz1 (mNGF) - 2016","jour":244,"niveau":39.45},{"serie":"Niveau Pz1 (mNGF) - 2016","jour":256,"niveau":39.38},{"serie":"Niveau Pz1 (mNGF) - 2016","jour":264,"niveau":39.2},{"serie":"Niveau Pz1 (mNGF) - 2016","jour":273.75,"niveau":39.15},{"serie":"Niveau Pz1 (mNGF) - 2016","jour":284,"niveau":39.0},{"serie":"Niveau Pz1 (mNGF) - 2016","jour":292,"niveau":38.85},{"serie":"Niveau Pz1 (mNGF) - 2016","jour":300,"niveau":38.7},{"serie":"Niveau Pz1 (mNGF) - 2016","jour":308,"niveau":38.6},{"serie":"Niveau Pz1 (mNGF) - 2016","jour":311,"niveau":38.7},{"serie":"Niveau Pz1 (mNGF) - 2016","jour":316,"niveau":38.45},{"serie":"Niveau Pz1 (mNGF) - 2016","jour":324,"niveau":38.3},{"serie":"Niveau Pz1 (mNGF) - 2016","jour":335,"niveau":38.2},{"serie":"Niveau Pz1 (mNGF) - 2016","jour":344,"niveau":38.15},{"serie":"Niveau Pz1 (mNGF) - 2016","jour":352,"niveau":38.05},{"serie":"Niveau Pz1 (mNGF) - 2016","jour":360.2,"niveau":38.0},{"serie":"Niveau Pz1 (mNGF) - 2016","jour":365,"niveau":37.9},

      {"serie":"Niveau Pz1 (mNGF) - 2017","jour":0,"niveau":37.95},{"serie":"Niveau Pz1 (mNGF) - 2017","jour":7,"niveau":37.85},{"serie":"Niveau Pz1 (mNGF) - 2017","jour":14.7,"niveau":37.75},{"serie":"Niveau Pz1 (mNGF) - 2017","jour":22.8,"niveau":37.6},{"serie":"Niveau Pz1 (mNGF) - 2017","jour":30.8,"niveau":37.55},{"serie":"Niveau Pz1 (mNGF) - 2017","jour":36.4,"niveau":37.45},{"serie":"Niveau Pz1 (mNGF) - 2017","jour":40.4,"niveau":37.7},{"serie":"Niveau Pz1 (mNGF) - 2017","jour":46.9,"niveau":37.5},{"serie":"Niveau Pz1 (mNGF) - 2017","jour":55,"niveau":37.45},{"serie":"Niveau Pz1 (mNGF) - 2017","jour":60.6,"niveau":37.4},{"serie":"Niveau Pz1 (mNGF) - 2017","jour":64.6,"niveau":37.7},{"serie":"Niveau Pz1 (mNGF) - 2017","jour":67.9,"niveau":38.4},{"serie":"Niveau Pz1 (mNGF) - 2017","jour":71,"niveau":38.8},{"serie":"Niveau Pz1 (mNGF) - 2017","jour":75,"niveau":39.1},{"serie":"Niveau Pz1 (mNGF) - 2017","jour":79.1,"niveau":39.05},{"serie":"Niveau Pz1 (mNGF) - 2017","jour":83.1,"niveau":38.75},{"serie":"Niveau Pz1 (mNGF) - 2017","jour":87.1,"niveau":38.55},{"serie":"Niveau Pz1 (mNGF) - 2017","jour":91.2,"niveau":38.4},{"serie":"Niveau Pz1 (mNGF) - 2017","jour":95.2,"niveau":38.25},{"serie":"Niveau Pz1 (mNGF) - 2017","jour":103.2,"niveau":38.1},{"serie":"Niveau Pz1 (mNGF) - 2017","jour":111.2,"niveau":37.95},{"serie":"Niveau Pz1 (mNGF) - 2017","jour":119.3,"niveau":37.8},{"serie":"Niveau Pz1 (mNGF) - 2017","jour":122.3,"niveau":37.7},{"serie":"Niveau Pz1 (mNGF) - 2017","jour":124.5,"niveau":37.8},{"serie":"Niveau Pz1 (mNGF) - 2017","jour":127.4,"niveau":37.6},{"serie":"Niveau Pz1 (mNGF) - 2017","jour":134.8,"niveau":37.45},{"serie":"Niveau Pz1 (mNGF) - 2017","jour":146.1,"niveau":37.25},{"serie":"Niveau Pz1 (mNGF) - 2017","jour":150.6,"niveau":37.3},{"serie":"Niveau Pz1 (mNGF) - 2017","jour":159.3,"niveau":37.15},{"serie":"Niveau Pz1 (mNGF) - 2017","jour":171.5,"niveau":37.05},{"serie":"Niveau Pz1 (mNGF) - 2017","jour":183.8,"niveau":36.85},{"serie":"Niveau Pz1 (mNGF) - 2017","jour":196.1,"niveau":36.75},{"serie":"Niveau Pz1 (mNGF) - 2017","jour":208.3,"niveau":36.6},{"serie":"Niveau Pz1 (mNGF) - 2017","jour":220.6,"niveau":36.45},{"serie":"Niveau Pz1 (mNGF) - 2017","jour":232.8,"niveau":36.3},{"serie":"Niveau Pz1 (mNGF) - 2017","jour":244,"niveau":36.2},{"serie":"Niveau Pz1 (mNGF) - 2017","jour":256,"niveau":36.05},{"serie":"Niveau Pz1 (mNGF) - 2017","jour":273.75,"niveau":35.85},{"serie":"Niveau Pz1 (mNGF) - 2017","jour":292,"niveau":35.65},{"serie":"Niveau Pz1 (mNGF) - 2017","jour":304.4,"niveau":35.55},{"serie":"Niveau Pz1 (mNGF) - 2017","jour":324,"niveau":35.35},{"serie":"Niveau Pz1 (mNGF) - 2017","jour":335,"niveau":35.25},{"serie":"Niveau Pz1 (mNGF) - 2017","jour":348,"niveau":35.15},{"serie":"Niveau Pz1 (mNGF) - 2017","jour":360,"niveau":35.15},{"serie":"Niveau Pz1 (mNGF) - 2017","jour":362,"niveau":35.05},{"serie":"Niveau Pz1 (mNGF) - 2017","jour":365,"niveau":35.2},

      {"serie":"Niveau Pz1 (mNGF) - 2018","jour":0,"niveau":35.2},{"serie":"Niveau Pz1 (mNGF) - 2018","jour":3.5,"niveau":35.35},{"serie":"Niveau Pz1 (mNGF) - 2018","jour":6.7,"niveau":35.5},{"serie":"Niveau Pz1 (mNGF) - 2018","jour":9.9,"niveau":35.8},{"serie":"Niveau Pz1 (mNGF) - 2018","jour":14.7,"niveau":35.8},{"serie":"Niveau Pz1 (mNGF) - 2018","jour":20,"niveau":35.8},{"serie":"Niveau Pz1 (mNGF) - 2018","jour":22.8,"niveau":36.0},{"serie":"Niveau Pz1 (mNGF) - 2018","jour":26,"niveau":36.25},{"serie":"Niveau Pz1 (mNGF) - 2018","jour":29.2,"niveau":36.45},{"serie":"Niveau Pz1 (mNGF) - 2018","jour":33.2,"niveau":36.75},{"serie":"Niveau Pz1 (mNGF) - 2018","jour":37.2,"niveau":37.05},{"serie":"Niveau Pz1 (mNGF) - 2018","jour":39.7,"niveau":37.4},{"serie":"Niveau Pz1 (mNGF) - 2018","jour":42.9,"niveau":37.85},{"serie":"Niveau Pz1 (mNGF) - 2018","jour":46.9,"niveau":37.9},{"serie":"Niveau Pz1 (mNGF) - 2018","jour":48.5,"niveau":38.25},{"serie":"Niveau Pz1 (mNGF) - 2018","jour":50.9,"niveau":39.05},{"serie":"Niveau Pz1 (mNGF) - 2018","jour":52.6,"niveau":39.2},{"serie":"Niveau Pz1 (mNGF) - 2018","jour":56.6,"niveau":39.0},{"serie":"Niveau Pz1 (mNGF) - 2018","jour":60.6,"niveau":38.85},{"serie":"Niveau Pz1 (mNGF) - 2018","jour":64.2,"niveau":38.45},{"serie":"Niveau Pz1 (mNGF) - 2018","jour":67.9,"niveau":38.65},{"serie":"Niveau Pz1 (mNGF) - 2018","jour":71.4,"niveau":38.8},{"serie":"Niveau Pz1 (mNGF) - 2018","jour":72.7,"niveau":38.6},{"serie":"Niveau Pz1 (mNGF) - 2018","jour":76.6,"niveau":38.65},{"serie":"Niveau Pz1 (mNGF) - 2018","jour":79.1,"niveau":38.7},{"serie":"Niveau Pz1 (mNGF) - 2018","jour":82.3,"niveau":38.6},{"serie":"Niveau Pz1 (mNGF) - 2018","jour":86.3,"niveau":38.35},{"serie":"Niveau Pz1 (mNGF) - 2018","jour":88.7,"niveau":38.4},{"serie":"Niveau Pz1 (mNGF) - 2018","jour":91.2,"niveau":38.75},{"serie":"Niveau Pz1 (mNGF) - 2018","jour":92.8,"niveau":39.15},{"serie":"Niveau Pz1 (mNGF) - 2018","jour":96.8,"niveau":39.55},{"serie":"Niveau Pz1 (mNGF) - 2018","jour":99.2,"niveau":39.65},{"serie":"Niveau Pz1 (mNGF) - 2018","jour":102.4,"niveau":40.15},{"serie":"Niveau Pz1 (mNGF) - 2018","jour":104.8,"niveau":40.0},{"serie":"Niveau Pz1 (mNGF) - 2018","jour":109.6,"niveau":39.7},{"serie":"Niveau Pz1 (mNGF) - 2018","jour":114.4,"niveau":39.35},{"serie":"Niveau Pz1 (mNGF) - 2018","jour":117.6,"niveau":39.1},{"serie":"Niveau Pz1 (mNGF) - 2018","jour":120,"niveau":39.0},{"serie":"Niveau Pz1 (mNGF) - 2018","jour":120.8,"niveau":39.25},{"serie":"Niveau Pz1 (mNGF) - 2018","jour":124.1,"niveau":39.35},{"serie":"Niveau Pz1 (mNGF) - 2018","jour":126.4,"niveau":39.35},{"serie":"Niveau Pz1 (mNGF) - 2018","jour":129.5,"niveau":39.15},{"serie":"Niveau Pz1 (mNGF) - 2018","jour":134.8,"niveau":38.8},{"serie":"Niveau Pz1 (mNGF) - 2018","jour":138.9,"niveau":38.6},{"serie":"Niveau Pz1 (mNGF) - 2018","jour":144.6,"niveau":38.55},{"serie":"Niveau Pz1 (mNGF) - 2018","jour":151.2,"niveau":38.4},{"serie":"Niveau Pz1 (mNGF) - 2018","jour":155.6,"niveau":38.4},{"serie":"Niveau Pz1 (mNGF) - 2018","jour":156.4,"niveau":40.15},{"serie":"Niveau Pz1 (mNGF) - 2018","jour":157.6,"niveau":40.45},{"serie":"Niveau Pz1 (mNGF) - 2018","jour":162.1,"niveau":40.3},{"serie":"Niveau Pz1 (mNGF) - 2018","jour":163,"niveau":42.0},{"serie":"Niveau Pz1 (mNGF) - 2018","jour":164.2,"niveau":41.1},{"serie":"Niveau Pz1 (mNGF) - 2018","jour":165.5,"niveau":40.95},{"serie":"Niveau Pz1 (mNGF) - 2018","jour":168.3,"niveau":40.65},{"serie":"Niveau Pz1 (mNGF) - 2018","jour":170.8,"niveau":40.45},{"serie":"Niveau Pz1 (mNGF) - 2018","jour":174,"niveau":39.95},{"serie":"Niveau Pz1 (mNGF) - 2018","jour":179.8,"niveau":39.7},{"serie":"Niveau Pz1 (mNGF) - 2018","jour":185.5,"niveau":39.4},{"serie":"Niveau Pz1 (mNGF) - 2018","jour":189.6,"niveau":39.05},{"serie":"Niveau Pz1 (mNGF) - 2018","jour":196.1,"niveau":38.85},{"serie":"Niveau Pz1 (mNGF) - 2018","jour":204.2,"niveau":38.7},{"serie":"Niveau Pz1 (mNGF) - 2018","jour":212.4,"niveau":38.55},{"serie":"Niveau Pz1 (mNGF) - 2018","jour":220.6,"niveau":38.45},{"serie":"Niveau Pz1 (mNGF) - 2018","jour":224.7,"niveau":38.35},{"serie":"Niveau Pz1 (mNGF) - 2018","jour":232.8,"niveau":38.35},{"serie":"Niveau Pz1 (mNGF) - 2018","jour":241,"niveau":38.3},{"serie":"Niveau Pz1 (mNGF) - 2018","jour":252,"niveau":38.15},{"serie":"Niveau Pz1 (mNGF) - 2018","jour":260,"niveau":38.0},{"serie":"Niveau Pz1 (mNGF) - 2018","jour":268,"niveau":37.9},{"serie":"Niveau Pz1 (mNGF) - 2018","jour":273.75,"niveau":37.83},{"serie":"Niveau Pz1 (mNGF) - 2018","jour":278,"niveau":37.85},{"serie":"Niveau Pz1 (mNGF) - 2018","jour":284,"niveau":37.75},{"serie":"Niveau Pz1 (mNGF) - 2018","jour":292,"niveau":37.65},{"serie":"Niveau Pz1 (mNGF) - 2018","jour":300,"niveau":37.5},{"serie":"Niveau Pz1 (mNGF) - 2018","jour":304.4,"niveau":37.45},{"serie":"Niveau Pz1 (mNGF) - 2018","jour":308,"niveau":37.35},{"serie":"Niveau Pz1 (mNGF) - 2018","jour":315,"niveau":37.4},{"serie":"Niveau Pz1 (mNGF) - 2018","jour":316.2,"niveau":38.1},{"serie":"Niveau Pz1 (mNGF) - 2018","jour":317.4,"niveau":38.5},{"serie":"Niveau Pz1 (mNGF) - 2018","jour":320.6,"niveau":38.25},{"serie":"Niveau Pz1 (mNGF) - 2018","jour":323.7,"niveau":38.1},{"serie":"Niveau Pz1 (mNGF) - 2018","jour":328.1,"niveau":37.85},{"serie":"Niveau Pz1 (mNGF) - 2018","jour":329.3,"niveau":38.4},{"serie":"Niveau Pz1 (mNGF) - 2018","jour":330,"niveau":39.15},{"serie":"Niveau Pz1 (mNGF) - 2018","jour":331.7,"niveau":39.25},{"serie":"Niveau Pz1 (mNGF) - 2018","jour":335.6,"niveau":39.25},{"serie":"Niveau Pz1 (mNGF) - 2018","jour":337.6,"niveau":39.7},{"serie":"Niveau Pz1 (mNGF) - 2018","jour":339.6,"niveau":39.95},{"serie":"Niveau Pz1 (mNGF) - 2018","jour":344.4,"niveau":40.1},{"serie":"Niveau Pz1 (mNGF) - 2018","jour":346.7,"niveau":40.05},{"serie":"Niveau Pz1 (mNGF) - 2018","jour":349.1,"niveau":39.85},{"serie":"Niveau Pz1 (mNGF) - 2018","jour":351.5,"niveau":40.05},{"serie":"Niveau Pz1 (mNGF) - 2018","jour":354.3,"niveau":40.15},{"serie":"Niveau Pz1 (mNGF) - 2018","jour":355,"niveau":41.1},{"serie":"Niveau Pz1 (mNGF) - 2018","jour":357,"niveau":40.85},{"serie":"Niveau Pz1 (mNGF) - 2018","jour":359.5,"niveau":40.65},{"serie":"Niveau Pz1 (mNGF) - 2018","jour":361.8,"niveau":40.5},{"serie":"Niveau Pz1 (mNGF) - 2018","jour":365,"niveau":40.15},

      {"serie":"Niveau Pz1 (mNGF) - 2019","jour":0,"niveau":40.1},{"serie":"Niveau Pz1 (mNGF) - 2019","jour":3,"niveau":39.95},{"serie":"Niveau Pz1 (mNGF) - 2019","jour":6,"niveau":39.8},{"serie":"Niveau Pz1 (mNGF) - 2019","jour":10.5,"niveau":39.6}
    ]
  },
  "encoding": {
    "x": {
      "field": "jour",
      "type": "quantitative",
      "scale": {"domain": [0, 365], "nice": false, "zero": false},
      "axis": {
        "title": null,
        "values": [0, 30.4167, 60.8333, 91.25, 121.6667, 152.0833, 182.5, 212.9167, 243.3333, 273.75, 304.1667, 334.5833],
        "labelExpr": "['01-janv','31-janv','02-mars','01-avr','02-mai','01-juin','02-juil','01-août','01-sept','01-oct','01-nov','01-déc'][round(datum.value/30.4167)]",
        "labelAngle": -33,
        "labelAlign": "right",
        "labelBaseline": "top",
        "labelPadding": 8,
        "labelFont": "Lato",
        "labelFontSize": 29,
        "labelColor": "#000000",
        "labelOverlap": false,
        "labelFlush": false,
        "labelBound": false,
        "grid": true,
        "gridColor": "#8c8c8c",
        "gridWidth": 2.5,
        "domainColor": "#8c8c8c",
        "domainWidth": 2.5,
        "tickColor": "#8c8c8c",
        "tickWidth": 2.5,
        "tickSize": 9
      }
    },
    "color": {
      "field": "serie",
      "type": "nominal",
      "scale": {
        "domain": ["Niveau PzC (mNGF) - 2015","Niveau PzC (mNGF) - 2016","Niveau PzC (mNGF) - 2019","Niveau Pz1 (mNGF) - 2016","Niveau Pz1 (mNGF) - 2018","Niveau PzC (mNGF) - 2017","Niveau PzC (mNGF) - 2018","Niveau Pz1 (mNGF) - 2015","Niveau Pz1 (mNGF) - 2017","Niveau Pz1 (mNGF) - 2019"],
        "range": ["#993937","#0070C0","#E46C0A","#00B0F0","#FF00FF","#4F6228","#CC3399","#FF0000","#92D050","#FFC000"]
      },
      "legend": {
        "title": null,
        "orient": "none",
        "legendX": 701,
        "legendY": 441,
        "columns": 2,
        "direction": "vertical",
        "fillColor": "white",
        "padding": 5,
        "symbolType": "M-1,0H3",
        "symbolSize": 1089,
        "symbolStrokeWidth": 7,
        "labelFont": "Lato",
        "labelFontSize": 26,
        "labelColor": "#000000",
        "labelOffset": 35,
        "labelLimit": 600,
        "rowPadding": 16,
        "columnPadding": 14
      }
    }
  },
  "layer": [
    {
      "data": {"name": "pzc"},
      "mark": {"type": "line", "strokeWidth": 10, "strokeCap": "round", "strokeJoin": "round"},
      "encoding": {
        "y": {
          "field": "niveau",
          "type": "quantitative",
          "scale": {"domain": [15, 20], "nice": false, "zero": false},
          "axis": {
            "orient": "left",
            "title": "Niveau d'eau en PzC mNGF",
            "titleFont": "Lato",
            "titleFontSize": 41.5,
            "titleFontWeight": "bold",
            "titleColor": "#000000",
            "titleAngle": 270,
            "titleAlign": "center",
            "titleBaseline": "middle",
            "titleX": -136,
            "titleY": 516,
            "values": [15, 15.5, 16, 16.5, 17, 17.5, 18, 18.5, 19, 19.5, 20],
            "format": ".1f",
            "labelFont": "Lato",
            "labelFontSize": 34,
            "labelFontWeight": "bold",
            "labelColor": "#000000",
            "labelPadding": 25,
            "grid": true,
            "gridColor": "#8c8c8c",
            "gridWidth": 2.5,
            "domainColor": "#8c8c8c",
            "domainWidth": 2.5,
            "tickColor": "#8c8c8c",
            "tickWidth": 2.5,
            "tickSize": 13
          }
        }
      }
    },
    {
      "data": {"name": "pz1"},
      "mark": {"type": "line", "strokeWidth": 7, "strokeCap": "round", "strokeJoin": "round"},
      "encoding": {
        "y": {
          "field": "niveau",
          "type": "quantitative",
          "scale": {"domain": [20, 45], "nice": false, "zero": false},
          "axis": {
            "orient": "right",
            "title": "Niveau d'eau en Pz1 mNGF",
            "titleFont": "Lato",
            "titleFontSize": 41.5,
            "titleFontWeight": "bold",
            "titleColor": "#000000",
            "titleAngle": 270,
            "titleAlign": "center",
            "titleBaseline": "middle",
            "titleX": 133,
            "titleY": 523,
            "values": [20, 25, 30, 35, 40, 45],
            "format": ".1f",
            "labelFont": "Lato",
            "labelFontSize": 34,
            "labelFontWeight": "bold",
            "labelColor": "#000000",
            "labelPadding": 24,
            "grid": false,
            "domainColor": "#8c8c8c",
            "domainWidth": 2.5,
            "tickColor": "#8c8c8c",
            "tickWidth": 2.5,
            "tickSize": 12
          }
        }
      }
    }
  ],
  "resolve": {"scale": {"y": "independent"}, "axis": {"y": "independent"}}
}
